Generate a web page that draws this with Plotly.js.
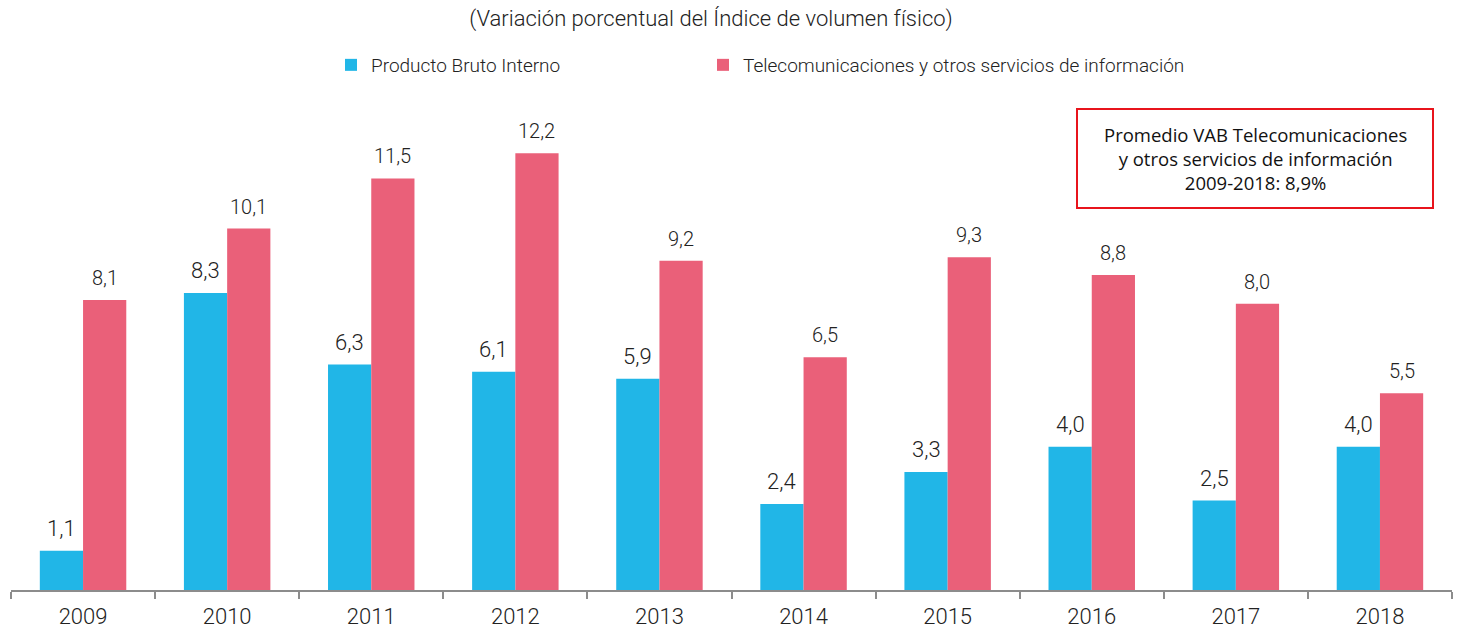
<!DOCTYPE html>
<html><head><meta charset="utf-8">
<script src="https://cdn.plot.ly/plotly-3.0.1.min.js"></script>
<style>body{margin:0;background:#fff}#chart{width:1458px;height:629px}</style>
</head><body><div id="chart"></div>
<script>
const years = ['2009','2010','2011','2012','2013','2014','2015','2016','2017','2018'];
const pbi = [1.1, 8.3, 6.3, 6.1, 5.9, 2.4, 3.3, 4.0, 2.5, 4.0];
const telecom = [8.1, 10.1, 11.5, 12.2, 9.2, 6.5, 9.3, 8.8, 8.0, 5.5];
const seriesNames = ['Producto Bruto Interno', 'Telecomunicaciones y otros servicios de información'];
const boxText = 'Promedio VAB Telecomunicaciones<br>y otros servicios de información<br>2009-2018: 8,9%';

const FONT = 'Roboto, "DejaVu Sans", sans-serif';
const BLUE = '#21B6E7', RED = '#EA6079', TXT = '#222222';
const fmt = v => v.toFixed(1).replace('.', ',');

// plot area in pixels: x 11..1452, y 100..590
const L = 11, W = 1441, T = 100, H = 490;
const px = x => (x - L) / W, py = y => (T + H - y) / H;

const traces = [
  {type:'bar', name: seriesNames[0], x: years, y: pbi, marker:{color: BLUE}, hoverinfo:'none', legend:'legend'},
  {type:'bar', name: seriesNames[1], x: years, y: telecom, marker:{color: RED}, hoverinfo:'none', legend:'legend2'}
];

const annotations = [];
years.forEach((yr, i) => {
  annotations.push({x: i - 0.15, y: pbi[i], xref:'x', yref:'y', text: fmt(pbi[i]), showarrow:false,
    yanchor:'bottom', yshift: 8, font:{family: FONT, size: 22, color: TXT, weight: 300}});
  annotations.push({x: i + 0.15, y: telecom[i], xref:'x', yref:'y', text: fmt(telecom[i]), showarrow:false,
    yanchor:'bottom', yshift: 8, font:{family: FONT, size: 20, color: TXT, weight: 300}});
});
annotations.push({xref:'paper', yref:'paper', x: px((1077 + 1433) / 2), y: py(158.5), xanchor:'center', yanchor:'middle',
  text: boxText, showarrow:false, align:'center',
  font:{family:'"Open Sans", "Liberation Sans", sans-serif', size: 18.5, color:'#111'}});

const legFont = {family: FONT, size: 19, color: TXT, weight: 300};
const layout = {
  width: 1458, height: 629,
  margin: {l: L, r: 1458 - L - W, t: T, b: 629 - T - H},
  paper_bgcolor:'#fff', plot_bgcolor:'#fff',
  font: {family: FONT, color: TXT},
  title: {text: '(Variación porcentual del Índice de volumen físico)', x: 711/1458, xanchor:'center',
    y: 1 - 18/629, yanchor:'middle', font:{family: FONT, size: 22, color: TXT, weight: 300}},
  barmode: 'group', bargap: 0.4, bargroupgap: 0,
  showlegend: true,
  legend: {orientation:'h', x: px(331), xanchor:'left', y: py(65), yanchor:'middle',
    font: legFont, itemwidth: 30, bgcolor:'rgba(0,0,0,0)'},
  legend2: {orientation:'h', x: px(703), xanchor:'left', y: py(65), yanchor:'middle',
    font: legFont, itemwidth: 30, bgcolor:'rgba(0,0,0,0)'},
  xaxis: {type:'category', tickson:'boundaries', ticks:'outside', ticklen: 7, tickcolor:'#8c8c8c', tickwidth: 2,
    showline: true, linecolor:'#8c8c8c', linewidth: 2, showgrid:false, zeroline:false, ticklabelstandoff: 6,
    tickfont:{family: FONT, size: 22, color: TXT, weight: 300}, fixedrange:true},
  yaxis: {range:[0, 13.69], visible:false, showgrid:false, zeroline:false, fixedrange:true},
  annotations: annotations,
  shapes: [{type:'rect', xref:'paper', yref:'paper', x0: px(1077), x1: px(1433), y0: py(208), y1: py(109),
    line:{color:'#E8141C', width:2}, fillcolor:'rgba(0,0,0,0)'}]
};

Plotly.newPlot('chart', traces, layout, {displayModeBar:false, staticPlot:true});
</script></body></html>
